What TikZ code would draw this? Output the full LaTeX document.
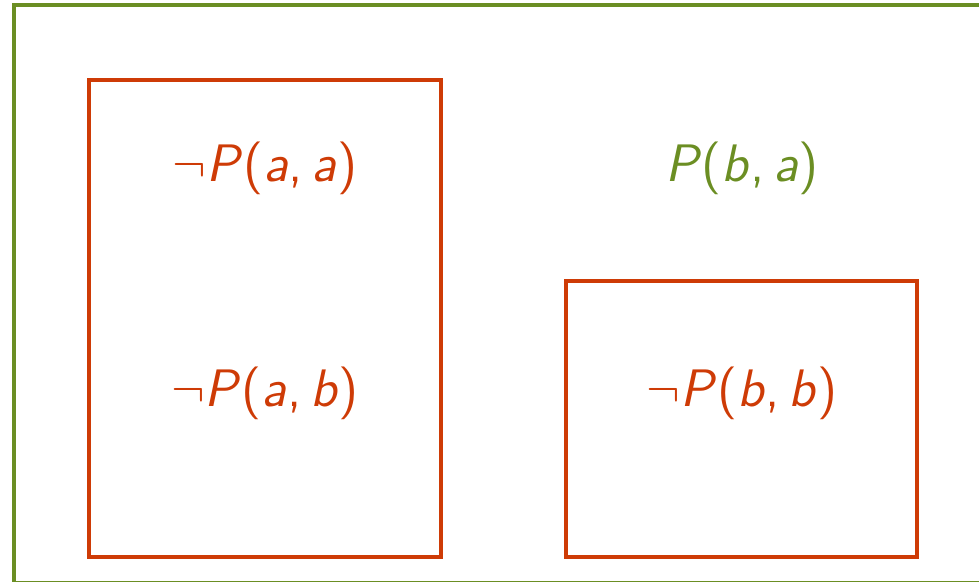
\documentclass[tikz,border=0pt]{standalone}
\usepackage{amsmath,amssymb}
\usepackage{tikz}
\usetikzlibrary{positioning}

\definecolor{frameGreen}{RGB}{107,142,35}
\definecolor{boxRed}{RGB}{206,59,6}
\newcommand{\sv}[1]{\textsf{\itshape #1}}
\newcommand{\lit}[2]{\sv{P}\textsf{(}\sv{#1}\textsf{,\,}\sv{#2}\textsf{)}}

\tikzset{
  redbox/.style={draw=boxRed,line width=1.2pt,inner sep=0pt},
  atom/.style={font=\fontsize{15}{18}\selectfont,inner sep=0pt}
}

\begin{document}
\begin{tikzpicture}[x=0.01cm,y=-0.01cm]
    \useasboundingbox (0,0) rectangle (979,581);
    \begin{scope}
    \clip (0,0) rectangle (979,581);
    \draw[frameGreen,line width=1.2pt] (14,5) rectangle (1000,583);
    \end{scope}
    \node[redbox,minimum width=3.52cm,minimum height=4.77cm] (lbox) at (265,318.5) {};
    \node[redbox,minimum width=3.51cm,minimum height=2.76cm] (rbox) at (741.5,419) {};

    \node[atom,text=boxRed] (paa) at (265,168) {$\neg$\lit{a}{a}};
    \node[atom,text=boxRed] (pab) at (265,393) {$\neg$\lit{a}{b}};
    \node[atom,text=frameGreen] (pba) at (742,168) {\lit{b}{a}};
    \node[atom,text=boxRed] (pbb) at (742,393) {$\neg$\lit{b}{b}};
  \end{tikzpicture}
\end{document}
